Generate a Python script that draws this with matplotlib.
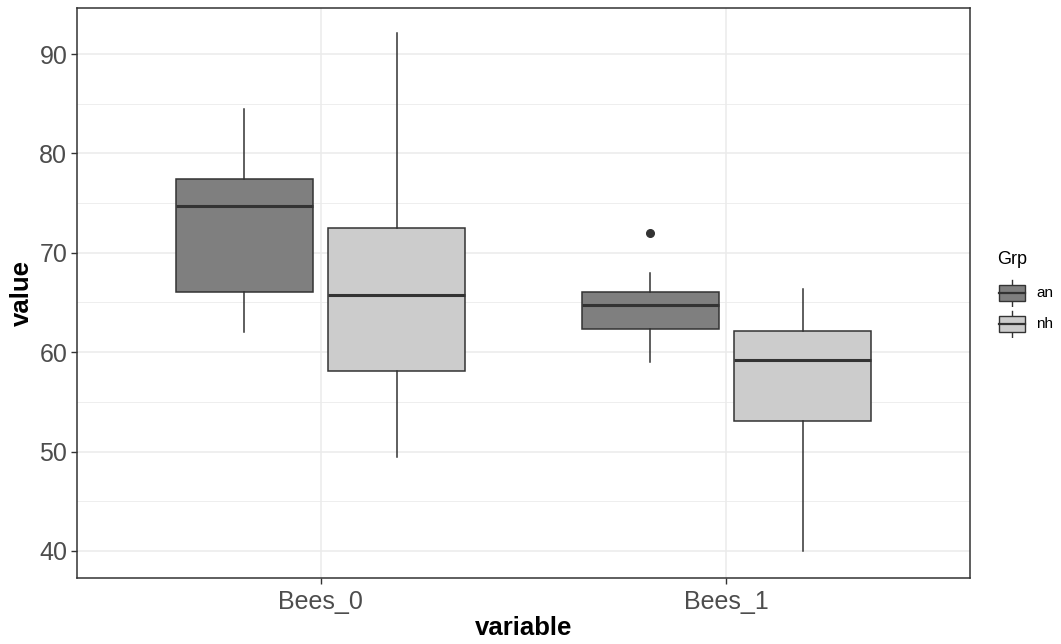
import matplotlib
matplotlib.use("Agg")
import matplotlib.pyplot as plt
from matplotlib.patches import Rectangle
from matplotlib.ticker import MultipleLocator

plt.rcParams['font.family'] = ['Liberation Sans', 'DejaVu Sans']

categories = ['Bees_0', 'Bees_1']
groups = ['an', 'nh']
fills = {'an': '#7f7f7f', 'nh': '#cccccc'}

# five-number summaries: whislo, q1, med, q3, whishi
stats_an = [(62.0, 66.1, 74.7, 77.4, 84.5), (59.0, 62.3, 64.7, 66.1, 68.0)]
stats_nh = [(49.5, 58.1, 65.8, 72.5, 92.1), (40.0, 53.1, 59.2, 62.1, 66.4)]
outliers_an = [[], [72.0]]
outliers_nh = [[], []]

fig = plt.figure(figsize=(10.61, 6.44), dpi=100)
ax = fig.add_axes([77 / 1061, 66 / 644, 893 / 1061, 570 / 644])

line_c = '#333333'
series = {'an': (stats_an, outliers_an, -0.1875), 'nh': (stats_nh, outliers_nh, 0.1875)}
for g in groups:
    st, outl, off = series[g]
    bstats = []
    for (lo, q1, med, q3, hi), fl in zip(st, outl):
        bstats.append(dict(whislo=lo, q1=q1, med=med, q3=q3, whishi=hi, fliers=fl))
    pos = [i + 1 + off for i in range(len(categories))]
    ax.bxp(bstats, positions=pos, widths=0.3375, patch_artist=True, showcaps=False,
           boxprops=dict(facecolor=fills[g], edgecolor=line_c, linewidth=1.1),
           medianprops=dict(color=line_c, linewidth=2.2),
           whiskerprops=dict(color=line_c, linewidth=1.1),
           flierprops=dict(marker='o', markerfacecolor=line_c, markeredgecolor=line_c,
                           markersize=5.5, linestyle='none'),
           manage_ticks=False, zorder=3)

ax.set_xlim(0.4, 2.6)
ax.set_ylim(37.28, 94.63)
ax.set_xticks([1, 2])
ax.set_xticklabels(categories)
ax.yaxis.set_major_locator(MultipleLocator(10))
ax.yaxis.set_minor_locator(MultipleLocator(5))
ax.grid(which='major', color='#ebebeb', linewidth=1.1, zorder=0)
ax.grid(which='minor', axis='y', color='#ebebeb', linewidth=0.6, zorder=0)
ax.set_axisbelow(True)
ax.tick_params(which='major', length=4, width=1, color=line_c, labelsize=18,
               labelcolor='#4d4d4d', pad=3)
ax.tick_params(axis='x', pad=5)
ax.tick_params(which='minor', length=0)
for s in ax.spines.values():
    s.set_color(line_c)
    s.set_linewidth(1.1)
ax.set_xlabel('variable', fontsize=18.5, fontweight='bold', labelpad=1)
ax.set_ylabel('value', fontsize=18.5, fontweight='bold', labelpad=4)

# legend
fig.text(997 / 1061, 1 - 260 / 644, 'Grp', fontsize=13, va='center', ha='left')
for i, g in enumerate(groups):
    cy = 293 + i * 31
    lax = fig.add_axes([997 / 1061, 1 - (cy + 14) / 644, 30 / 1061, 28 / 644])
    lax.set_xlim(0, 1)
    lax.set_ylim(0, 1)
    lax.axis('off')
    lax.plot([0.5, 0.5], [0.02, 0.98], color=line_c, linewidth=1.0)
    lax.add_patch(Rectangle((0.08, 0.2), 0.84, 0.6, facecolor=fills[g],
                            edgecolor=line_c, linewidth=1.0, zorder=2))
    lax.plot([0.08, 0.92], [0.5, 0.5], color=line_c, linewidth=1.6, zorder=3)
    fig.text(1036 / 1061, 1 - cy / 644, g, fontsize=11, va='center', ha='left')

fig.savefig('out.png', dpi=100)
